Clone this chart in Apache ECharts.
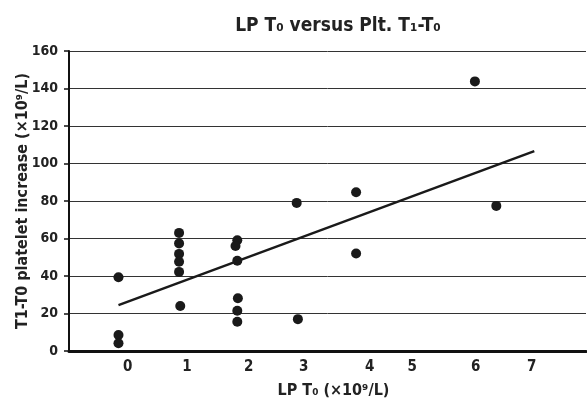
<!DOCTYPE html>
<html>
<head>
<meta charset="utf-8">
<script src="https://cdn.jsdelivr.net/npm/echarts@6/dist/echarts.min.js"></script>
<style>
  html, body { margin: 0; padding: 0; background: #fff; }
  #chart { width: 587px; height: 401px; }
</style>
</head>
<body>
<div id="chart"></div>
<script>
// scatter points (LP T0 vs platelet increase)
const lpT0 = [0, 0, 0, 1.02, 1.02, 1.02, 1.02, 1.02, 1.04, 2, 1.97, 2, 2.01, 2, 2, 3, 3.02, 4, 4, 6, 6.36]
const pltInc = [39.3, 8.5, 4.1, 63, 57.4, 51.8, 47.6, 42.2, 24, 59.1, 56, 48.1, 28.1, 21.5, 15.6, 79, 17, 84.7, 52, 143.8, 77.4]
// fitted line ends
const fitX = [0, 7]
const fitY = [24.5, 106.6]
// x tick labels sit a bit off the integer positions in the original
const xTickPos = [0.155, 1.153, 2.192, 3.118, 4.229, 4.946, 6.013, 6.956]
const xTickText = ['0', '1', '2', '3', '4', '5', '6', '7']

const font = "'Liberation Sans Narrow', 'DejaVu Sans Condensed', sans-serif"

const chart = echarts.init(document.getElementById('chart'))
chart.setOption({
  animation: false,
  title: {
    text: 'LP T₀ versus Plt. T₁-T₀',
    left: 333,
    top: 12,
    textAlign: 'center',
    textStyle: { fontFamily: font, fontWeight: 'bold', fontSize: 19, color: '#222' }
  },
  grid: { left: 69, right: 1, top: 51, bottom: 50, outerBoundsMode: 'none' },
  xAxis: {
    type: 'value',
    min: -0.833,
    max: 7.87,
    name: 'LP T₀ (×10⁹/L)',
    nameLocation: 'middle',
    nameGap: 32,
    nameTextStyle: { fontFamily: font, fontWeight: 'bold', fontSize: 16, color: '#222', padding: [0, 0, 0, 12] },
    axisLine: { onZero: false, lineStyle: { color: '#111', width: 3 } },
    axisTick: { show: false },
    splitLine: { show: false },
    axisLabel: {
      customValues: xTickPos,
      margin: 9,
      fontFamily: font,
      fontWeight: 'bold',
      fontSize: 15,
      color: '#222',
      formatter: function (v) {
        let best = 0
        for (let i = 0; i < xTickPos.length; i++) {
          if (Math.abs(xTickPos[i] - v) < Math.abs(xTickPos[best] - v)) best = i
        }
        return xTickText[best]
      }
    }
  },
  yAxis: {
    type: 'value',
    min: 0,
    max: 160,
    interval: 20,
    name: 'T1-T0 platelet increase (×10⁹/L)',
    nameLocation: 'middle',
    nameGap: 38,
    nameMoveOverlap: false,
    nameTextStyle: { fontFamily: font, fontWeight: 'bold', fontSize: 16, color: '#222' },
    axisLine: { show: true, onZero: false, lineStyle: { color: '#111', width: 2 } },
    axisTick: { show: true, length: 5, lineStyle: { color: '#111', width: 1.5 } },
    splitLine: { show: true, lineStyle: { color: '#333', width: 1 } },
    axisLabel: { margin: 11, fontFamily: font, fontWeight: 'bold', fontSize: 14, color: '#222' }
  },
  series: [
    {
      type: 'scatter',
      symbolSize: 10,
      itemStyle: { color: '#1a1a1a', opacity: 1 },
      data: lpT0.map((x, i) => [x, pltInc[i]])
    },
    {
      type: 'line',
      showSymbol: false,
      lineStyle: { color: '#1a1a1a', width: 2.5 },
      data: fitX.map((x, i) => [x, fitY[i]])
    }
  ]
})
</script>
</body>
</html>
